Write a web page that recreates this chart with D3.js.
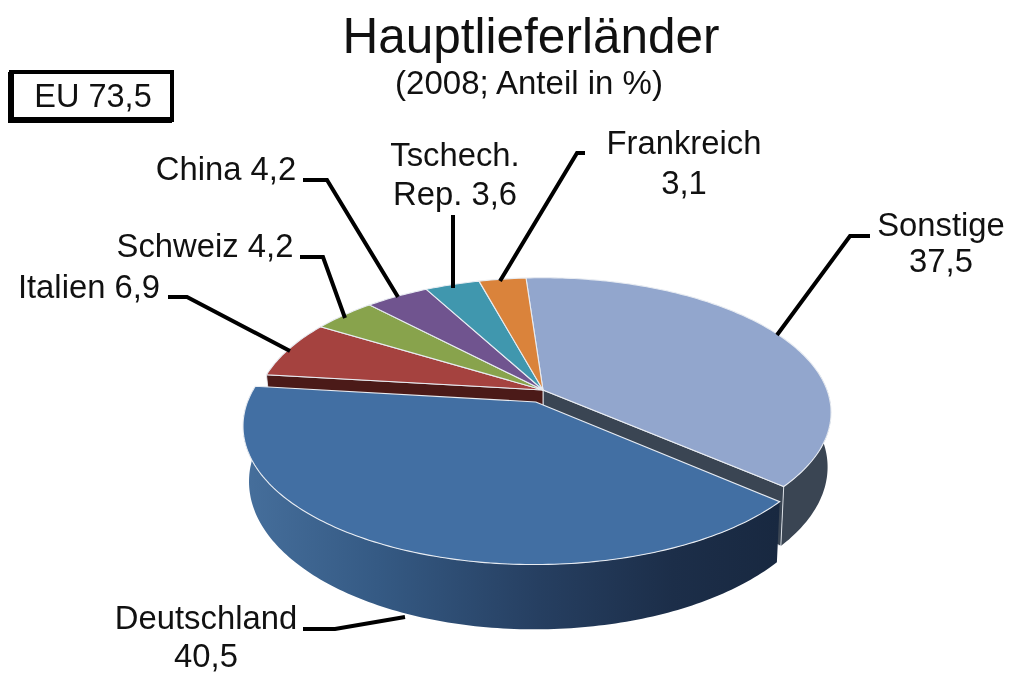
<!DOCTYPE html>
<html><head><meta charset="utf-8">
<script src="https://cdn.jsdelivr.net/npm/d3@7"></script>
<style>html,body{margin:0;background:#fff}svg{display:block;filter:blur(.6px)}text{font-family:"Liberation Sans",Arial,sans-serif;fill:#111}</style>
</head><body><svg id="c" width="1010" height="673"></svg>
<script>
const categories=["Sonstige","Deutschland","Italien","Schweiz","China","Tschech. Rep.","Frankreich"];
const values=[37.5,40.5,6.9,4.2,4.2,3.6,3.1];
const topColors=["#92a6cd","#426fa3","#a5423f","#88a34c","#70548f","#4097ae","#da833b"];
const sideColors=["#3a4553","#1a2b44","#4b1a18","#4a5a28","#3c2c50","#1f5160","#7a461d"];
const titleText="Hauptlieferländer", subtitleText="(2008; Anteil in %)", boxText="EU 73,5";
const labelLines=[["Sonstige","37,5"],["Deutschland","40,5"],["Italien 6,9"],["Schweiz 4,2"],["China 4,2"],["Tschech.","Rep. 3,6"],["Frankreich","3,1"]];

// layout
const cx=543,cy=390,A=284,B=131,k=.167,H=53,shrinkL=.02,shrinkR=.012;
const explode={1:{x:-.025,y:-.09}};
const labelPos=[
 {x:941,ys:[236,272],line:[[870,236],[850,236],[777,335]]},
 {x:206,ys:[629,667],line:[[303,629],[335,629],[405,617]]},
 {x:89,ys:[298],line:[[168,297],[187,297],[290,351]]},
 {x:205,ys:[257],line:[[300,257],[323,257],[345,318]]},
 {x:226,ys:[180],line:[[303,180],[327,180],[398,297]]},
 {x:455,ys:[166,205],line:[[453,215],[453,288]]},
 {x:684,ys:[154,194],line:[[585,153],[577,153],[500,281]]}
];

const svg=d3.select("#c");
const rad=d=>d*Math.PI/180;
const pie=d3.pie().sort(null).startAngle(rad(-4)).endAngle(rad(356));
const arcs=pie(values).map((d,i)=>({...d,i}));
const proj=(a,r,z,o)=>{const X=(o?o.x:0)+r*Math.sin(a),Y=(o?o.y:0)+r*Math.cos(a),w=1+k*Y;
  const s=1-(X<0?shrinkL:shrinkR)*z;
  return [cx+A*X*s/w,cy-(B*Y-H*z)/w];};
const line=d3.line();
const samples=(a0,a1)=>{const n=Math.ceil(Math.abs(a1-a0)*60);return d3.range(n+1).map(j=>a0+(a1-a0)*j/n);};
const topPath=(d,o)=>line([proj(0,0,0,o),...samples(d.startAngle,d.endAngle).map(a=>proj(a,1,0,o))])+"Z";
const wallPath=(a0,a1,o)=>{const s=samples(a0,a1);return line([...s.map(a=>proj(a,1,0,o)),...s.slice().reverse().map(a=>proj(a,1,1,o))])+"Z";};
const facePath=(a,o)=>line([proj(0,0,0,o),proj(a,1,0,o),proj(a,1,1,o),proj(0,0,1,o)])+"Z";

const defs=svg.append("defs");
const grad=defs.append("linearGradient").attr("id","wall").attr("gradientUnits","userSpaceOnUse").attr("x1",243).attr("x2",780).attr("y1",0).attr("y2",0);
[[0,"#466f9c"],[.25,"#355a84"],[.55,"#263f61"],[.8,"#1c2e49"],[1,"#182840"]].forEach(s=>grad.append("stop").attr("offset",s[0]).attr("stop-color",s[1]));

const edge="#e8ecf2";
const s0=arcs[0], d1=arcs[1], it=arcs[2];
svg.append("path").attr("d",wallPath(rad(82),s0.endAngle)).attr("fill",sideColors[0]);
svg.append("path").attr("d",facePath(s0.endAngle)).attr("fill",sideColors[0]).attr("stroke",edge).attr("stroke-width",.9);
svg.append("path").attr("d",facePath(it.startAngle)).attr("fill",sideColors[2]).attr("stroke",edge).attr("stroke-width",.9);
arcs.filter(d=>d.i!==1).forEach(d=>svg.append("path").attr("d",topPath(d)).attr("fill",topColors[d.i]).attr("stroke",edge).attr("stroke-width",1.1));
const o=explode[1];
svg.append("path").attr("d",wallPath(d1.startAngle,d1.endAngle,o)).attr("fill","url(#wall)");
svg.append("path").attr("d",topPath(d1,o)).attr("fill",topColors[1]).attr("stroke",edge).attr("stroke-width",1.1);

labelPos.forEach(p=>svg.append("path").attr("d",line(p.line)).attr("fill","none").attr("stroke","#000").attr("stroke-width",4));
function txt(str,x,y,size){
  svg.append("text").attr("x",x).attr("y",y).attr("text-anchor","middle").attr("font-size",size).text(str);
}
txt(titleText,531,53,49.5);
txt(subtitleText,529,94,33);
labelPos.forEach((p,i)=>labelLines[i].forEach((t,j)=>txt(t,p.x,p.ys[j],32.8)));
svg.append("rect").attr("x",11).attr("y",72).attr("width",161).attr("height",48).attr("fill","#fff").attr("stroke","#000").attr("stroke-width",4);
svg.append("path").attr("d","M11 72V120H172").attr("fill","none").attr("stroke","#000").attr("stroke-width",6);
txt(boxText,93,107,32.5);
</script></body></html>
